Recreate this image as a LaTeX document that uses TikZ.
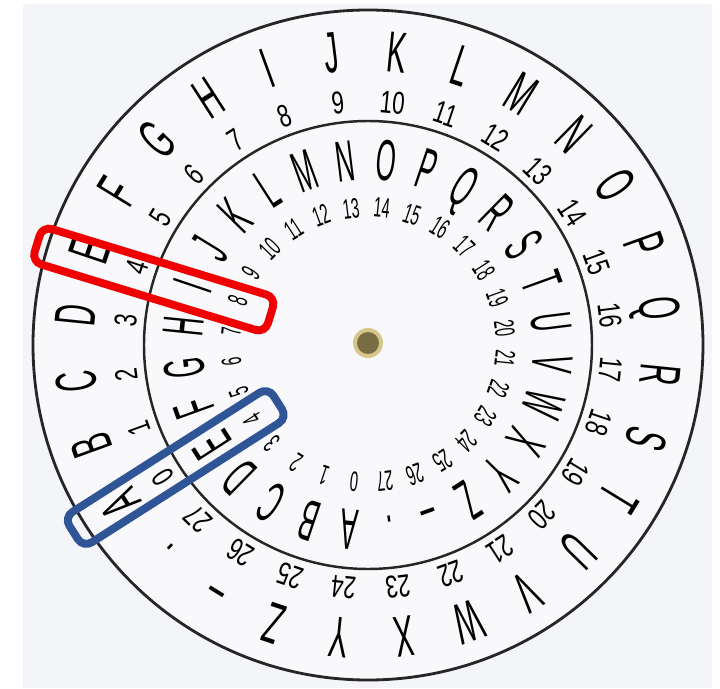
\documentclass[tikz,border=0pt]{standalone}
\usepackage{fontspec}
\setmainfont{Liberation Sans}
\usepackage{graphicx}
\usetikzlibrary{calc}

\definecolor{paper}{RGB}{244,245,249}
\definecolor{disk}{RGB}{249,249,251}
\definecolor{brass}{RGB}{214,198,140}
\definecolor{brassdark}{RGB}{120,108,66}
\definecolor{markred}{RGB}{240,0,0}
\definecolor{markblue}{RGB}{47,85,151}

\newcommand{\slimtext}[2][0.5]{\scalebox{#1}[1]{#2}}

\begin{document}
\begin{tikzpicture}[
      bigletter/.style={inner sep=0pt, text height=23.6pt, text depth=0pt, font=\fontsize{33}{33}\selectfont},
      outnumber/.style={inner sep=0pt, text height=12.9pt, text depth=0pt, font=\fontsize{18}{18}\selectfont},
      innumber/.style={inner sep=0pt, text height=11.5pt, text depth=0pt, font=\fontsize{16}{16}\selectfont},
      markbox/.style={line width=4.5pt, rounded corners=0.2cm},
      ]

      \useasboundingbox (-7.36,-6.86) rectangle (7.04,6.9);
      \fill[paper] (-6.9,-6.86) rectangle (6.88,6.82);

      % the two disks
      \draw[fill=disk, draw=black!85, line width=1.6pt] (0,0) circle (6.7);
      \draw[draw=black!85, line width=1.4pt] (0,0) circle (4.48);

      % letters, outer and inner disk
      \foreach \ch [count=\k from 0] in {A,B,C,D,E,F,G,H,I,J,K,L,M,N,O,P,Q,R,S,T,U,V,W,X,Y,Z} {
        \pgfmathsetmacro{\ang}{212.8-360/28*\k}
        \node[bigletter, rotate=\ang-90] (outL\k) at (\ang:5.9) {\slimtext{\ch}};
        \pgfmathsetmacro{\bng}{264.2-360/28*\k}
        \node[bigletter, rotate=\bng-90] (inL\k) at (\bng:3.72) {\slimtext[0.44]{\ch}};
      }
      \pgfmathsetmacro{\ang}{212.8-360/28*26}
      \node[bigletter, rotate=\ang-90] (outL26) at (\ang:5.9) {\slimtext{--}};
      \pgfmathsetmacro{\ang}{212.8-360/28*27}
      \node[bigletter, rotate=\ang-90] (outL27) at (\ang:6.0) {\slimtext{.}};
      \pgfmathsetmacro{\bng}{264.2-360/28*26}
      \node[bigletter, rotate=\bng-90] (inL26) at (\bng:3.66) {\slimtext[0.44]{--}};
      \pgfmathsetmacro{\bng}{264.2-360/28*27}
      \node[bigletter, rotate=\bng-90] (inL27) at (\bng:3.86) {\slimtext[0.44]{.}};

      % numbers
      \foreach \k in {0,...,27} {
        \pgfmathsetmacro{\ang}{212.8-360/28*\k}
        \node[outnumber, rotate=\ang-90] (outN\k) at (\ang:4.88) {\slimtext[0.7]{\k}};
        \pgfmathsetmacro{\bng}{264.2-360/28*\k}
        \node[innumber, rotate=\bng-90] (inN\k) at (\bng:2.76) {\slimtext[0.52]{\k}};
      }

      % eyelet
      \fill[brass] (0,0.04) circle (0.3);
      \fill[brassdark] (0,0.04) circle (0.22);

      % marked pairs
      \draw[markbox, markred, rotate=163] (2.04,-0.37) rectangle (6.92,0.37);
      \draw[markbox, markblue, rotate=212.5] (2.14,-0.36) rectangle (6.98,0.36);

    \end{tikzpicture}
\end{document}
